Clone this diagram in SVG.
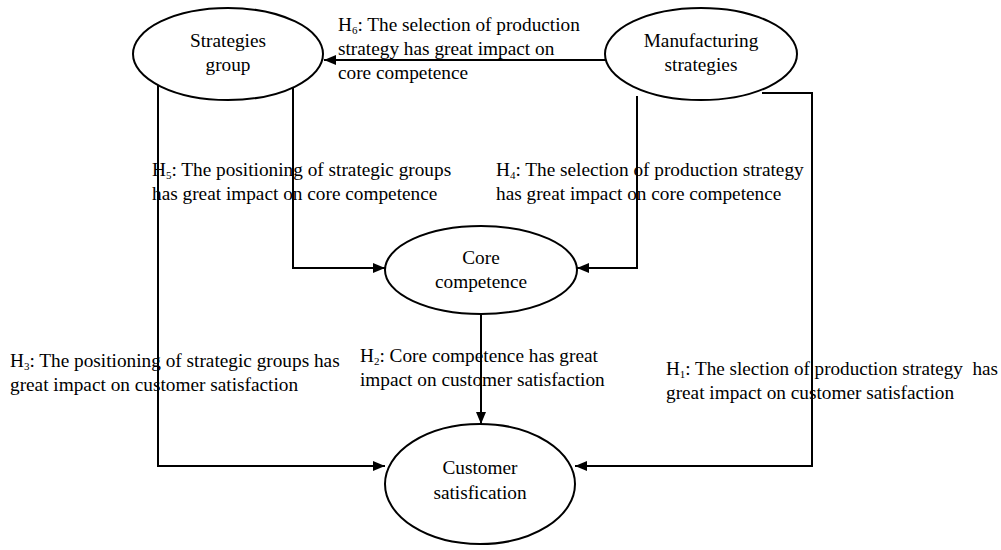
<svg xmlns="http://www.w3.org/2000/svg" width="1001" height="550" viewBox="0 0 1001 550">
<defs>
<style>
.node ellipse{fill:#fff;stroke:#000;stroke-width:2}
.nt{font-family:"Liberation Serif","Times New Roman",serif;font-size:19.3px;fill:#000;text-anchor:middle}
.lbl{font-family:"Liberation Serif","Times New Roman",serif;font-size:19.3px;fill:#000}
.sub{font-size:11px}
#connectors path{fill:none;stroke:#000;stroke-width:2;marker-end:url(#ah)}
</style>
<marker id="ah" viewBox="0 0 12 10" refX="12" refY="5" markerWidth="12" markerHeight="10" markerUnits="userSpaceOnUse" orient="auto">
<path d="M0,0 L12,5 L0,10 Z" fill="#000"/>
</marker>
</defs>
<rect width="1001" height="550" fill="#fff"/>
<g id="connectors">
<path d="M606,60 L324,60"/>
<path d="M293,88 L293,268 L385,268"/>
<path d="M637,96 L637,268 L577,268"/>
<path d="M481,314 L481,424"/>
<path d="M158,85 L158,466 L385,466"/>
<path d="M762,93 L812,93 L812,466 L575,466"/>
</g>
<g id="strategies-group" class="node">
<ellipse cx="228" cy="54" rx="95" ry="46"/>
<text class="nt" x="228" y="47">Strategies</text>
<text class="nt" x="228" y="71">group</text>
</g>
<g id="manufacturing-strategies" class="node">
<ellipse cx="701" cy="54" rx="96" ry="46"/>
<text class="nt" x="701" y="47">Manufacturing</text>
<text class="nt" x="701" y="71">strategies</text>
</g>
<g id="core-competence" class="node">
<ellipse cx="481" cy="270" rx="96" ry="44"/>
<text class="nt" x="481" y="264">Core</text>
<text class="nt" x="481" y="288">competence</text>
</g>
<g id="customer-satisfaction" class="node">
<ellipse cx="480" cy="484" rx="95" ry="60"/>
<text class="nt" x="480" y="474">Customer</text>
<text class="nt" x="480" y="499">satisfication</text>
</g>
<g id="labels">
<text class="lbl" x="338" y="31">H<tspan class="sub" dy="3">6</tspan><tspan dy="-3">: The selection of production</tspan></text>
<text class="lbl" x="338" y="55">strategy has great impact on</text>
<text class="lbl" x="338" y="79">core competence</text>
<text class="lbl" x="152" y="176">H<tspan class="sub" dy="3">5</tspan><tspan dy="-3">: The positioning of strategic groups</tspan></text>
<text class="lbl" x="152" y="200">has great impact on core competence</text>
<text class="lbl" x="496" y="176">H<tspan class="sub" dy="3">4</tspan><tspan dy="-3">: The selection of production strategy</tspan></text>
<text class="lbl" x="496" y="200">has great impact on core competence</text>
<text class="lbl" x="10" y="367">H<tspan class="sub" dy="3">3</tspan><tspan dy="-3">: The positioning of strategic groups has</tspan></text>
<text class="lbl" x="10" y="391">great impact on customer satisfaction</text>
<text class="lbl" x="360" y="362">H<tspan class="sub" dy="3">2</tspan><tspan dy="-3">: Core competence has great</tspan></text>
<text class="lbl" x="360" y="386">impact on customer satisfaction</text>
<text class="lbl" x="666" y="375" xml:space="preserve" textLength="332" lengthAdjust="spacingAndGlyphs">H<tspan class="sub" dy="3">1</tspan><tspan dy="-3">: The slection of production strategy  has</tspan></text>
<text class="lbl" x="666" y="399">great impact on customer satisfaction</text>
</g>
</svg>
